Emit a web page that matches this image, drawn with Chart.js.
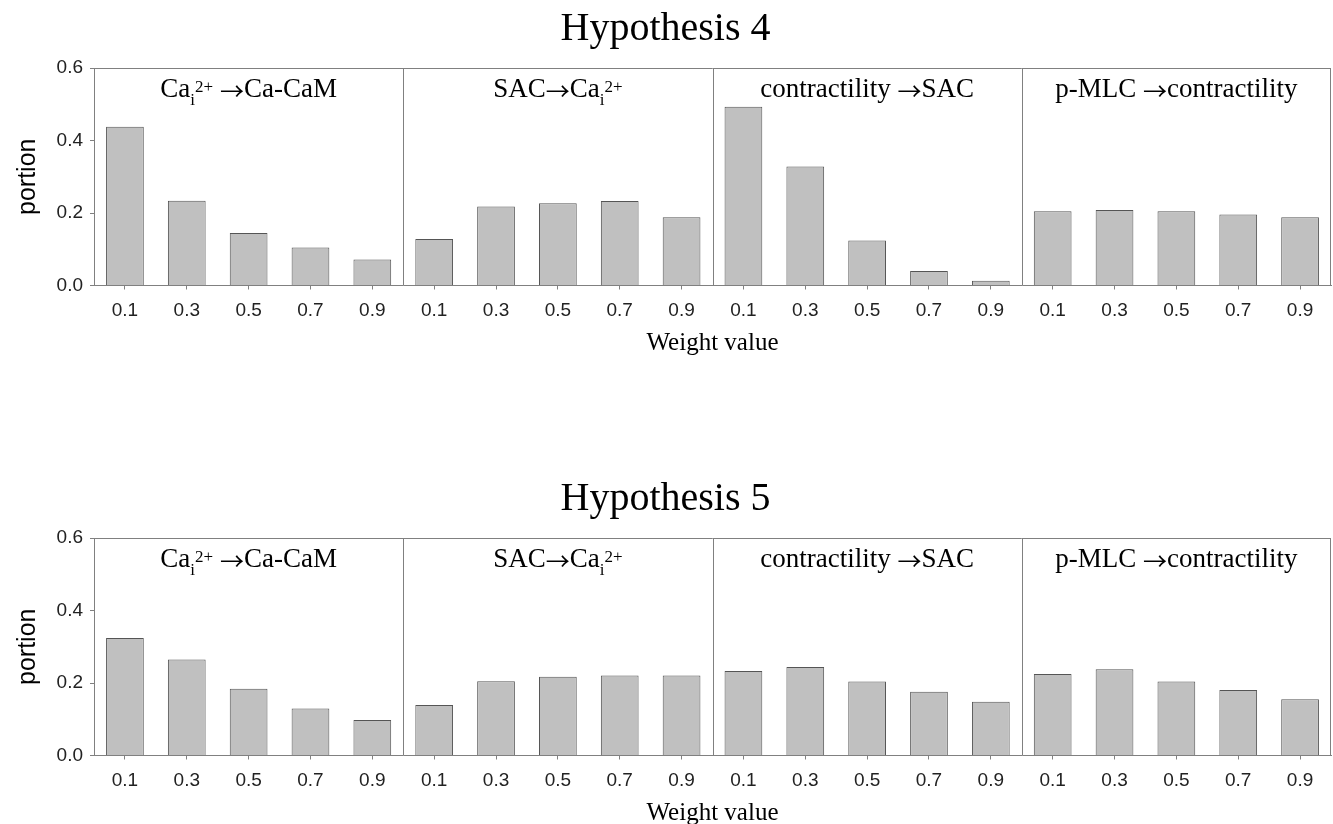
<!DOCTYPE html>
<html>
<head>
<meta charset="utf-8">
<script src="https://cdn.jsdelivr.net/npm/chart.js@4.4.0/dist/chart.umd.min.js"></script>
<style>
  html, body { margin: 0; padding: 0; background: #fff; overflow: hidden; }
  canvas { position: absolute; left: 0; }
</style>
</head>
<body>
<canvas id="h4" width="1333" height="358" style="top:0px"></canvas>
<canvas id="h5" width="1333" height="358" style="top:470px"></canvas>
<script>
// weight values on the x axis (repeated in each of the 4 panels)
var weights = ['0.1', '0.3', '0.5', '0.7', '0.9'];
var yTicks = [0, 0.2, 0.4, 0.6];

// panel headers: pieces of text, 'sub' / 'sup' drawn small, 'arr' is the arrow
var panelTitles = [
  [['Ca'], ['i', 'sub'], ['2+', 'sup'], [' '], ['\u2192', 'arr'], ['Ca-CaM']],
  [['SAC'], ['\u2192', 'arr'], ['Ca'], ['i', 'sub'], ['2+', 'sup']],
  [['contractility '], ['\u2192', 'arr'], ['SAC']],
  [['p-MLC '], ['\u2192', 'arr'], ['contractility']]
];

// Hypothesis 4
var h4CaCaM = [0.438, 0.234, 0.145, 0.105, 0.072];
var h4SacCa = [0.128, 0.218, 0.227, 0.233, 0.188];
var h4ContrSac = [0.493, 0.328, 0.124, 0.040, 0.013];
var h4PmlcContr = [0.205, 0.208, 0.205, 0.196, 0.188];

// Hypothesis 5
var h5CaCaM = [0.324, 0.265, 0.184, 0.130, 0.098];
var h5SacCa = [0.139, 0.205, 0.217, 0.221, 0.221];
var h5ContrSac = [0.233, 0.244, 0.204, 0.176, 0.148];
var h5PmlcContr = [0.225, 0.238, 0.204, 0.181, 0.155];

var axisColor = '#808080';
var sans = 'Arial, "Liberation Sans", sans-serif';
var serif = '"Times New Roman", "Liberation Serif", serif';

function partFont(kind) {
  if (kind === 'sub' || kind === 'sup') return '17px ' + serif;
  if (kind === 'arr') return '24px "Noto Sans CJK JP", "DejaVu Sans", sans-serif';
  return '27px ' + serif;
}

function drawRich(ctx, parts, cx, baseline) {
  var w = 0;
  parts.forEach(function (p) {
    ctx.font = partFont(p[1]);
    w += ctx.measureText(p[0]).width;
  });
  var x = cx - w / 2;
  ctx.textAlign = 'left';
  ctx.textBaseline = 'alphabetic';
  ctx.fillStyle = '#000';
  parts.forEach(function (p) {
    ctx.font = partFont(p[1]);
    var dy = p[1] === 'sub' ? 8 : (p[1] === 'sup' ? -5 : (p[1] === 'arr' ? 3 : 0));
    ctx.fillText(p[0], x, baseline + dy);
    x += ctx.measureText(p[0]).width;
  });
}

// frame, panel dividers and panel headers
var panelPlugin = {
  id: 'panels',
  afterDatasetsDraw: function (chart) {
    var ctx = chart.ctx, a = chart.chartArea, x = chart.scales.x;
    ctx.save();
    ctx.strokeStyle = axisColor;
    ctx.lineWidth = 1;
    ctx.beginPath();
    ctx.moveTo(a.left, Math.round(a.top) + 0.5);
    ctx.lineTo(a.right, Math.round(a.top) + 0.5);
    ctx.moveTo(Math.round(a.right) - 0.5, a.top);
    ctx.lineTo(Math.round(a.right) - 0.5, a.bottom);
    for (var k = 1; k < 4; k++) {
      var xp = Math.round((x.getPixelForValue(k * 5 - 1) + x.getPixelForValue(k * 5)) / 2) + 0.5;
      ctx.moveTo(xp, a.top);
      ctx.lineTo(xp, a.bottom);
    }
    ctx.stroke();
    for (var p = 0; p < 4; p++) {
      var cx = (x.getPixelForValue(p * 5) + x.getPixelForValue(p * 5 + 4)) / 2;
      drawRich(ctx, panelTitles[p], cx, a.top + 29);
    }
    ctx.restore();
  }
};

function makeChart(id, title, values) {
  var labels = [];
  for (var i = 0; i < 4; i++) labels = labels.concat(weights);
  var data = [].concat.apply([], values);
  return new Chart(document.getElementById(id), {
    type: 'bar',
    data: {
      labels: labels,
      datasets: [{
        data: data,
        backgroundColor: '#c0c0c0',
        borderColor: '#555555',
        borderWidth: 1,
        barPercentage: 0.61,
        categoryPercentage: 1
      }]
    },
    options: {
      responsive: false,
      animation: false,
      devicePixelRatio: 1,
      layout: { padding: { left: 0, right: 2, top: 0, bottom: 0 } },
      plugins: {
        legend: { display: false },
        tooltip: { enabled: false },
        title: {
          display: true,
          text: title,
          color: '#000',
          font: { family: serif, size: 40, weight: 'normal' },
          padding: { top: 5, bottom: 15 }
        }
      },
      scales: {
        x: {
          offset: true,
          border: { display: true, color: axisColor, width: 1 },
          grid: { display: true, offset: false, drawOnChartArea: false, drawTicks: true, tickLength: 4, color: axisColor },
          ticks: { color: '#222', font: { family: sans, size: 19 }, padding: 10, maxRotation: 0, autoSkip: false },
          title: {
            display: true,
            text: 'Weight value',
            color: '#000',
            font: { family: serif, size: 25 },
            padding: 0
          },
          afterFit: function (s) { s.height = 72.5; }
        },
        y: {
          min: 0,
          max: 0.6,
          afterBuildTicks: function (s) { s.ticks = yTicks.map(function (v) { return { value: v }; }); },
          border: { display: true, color: axisColor, width: 1 },
          grid: { display: true, drawOnChartArea: false, drawTicks: true, tickLength: 4, color: axisColor },
          ticks: {
            color: '#222',
            font: { family: sans, size: 19 },
            padding: 7,
            callback: function (v) { return Number(v).toFixed(1); }
          },
          title: {
            display: true,
            text: 'portion',
            color: '#000',
            font: { family: sans, size: 25 },
            padding: { top: 13, bottom: 0 }
          },
          afterFit: function (s) { s.width = 94; }
        }
      }
    },
    plugins: [panelPlugin]
  });
}

makeChart('h4', 'Hypothesis 4', [h4CaCaM, h4SacCa, h4ContrSac, h4PmlcContr]);
makeChart('h5', 'Hypothesis 5', [h5CaCaM, h5SacCa, h5ContrSac, h5PmlcContr]);
</script>
</body>
</html>
